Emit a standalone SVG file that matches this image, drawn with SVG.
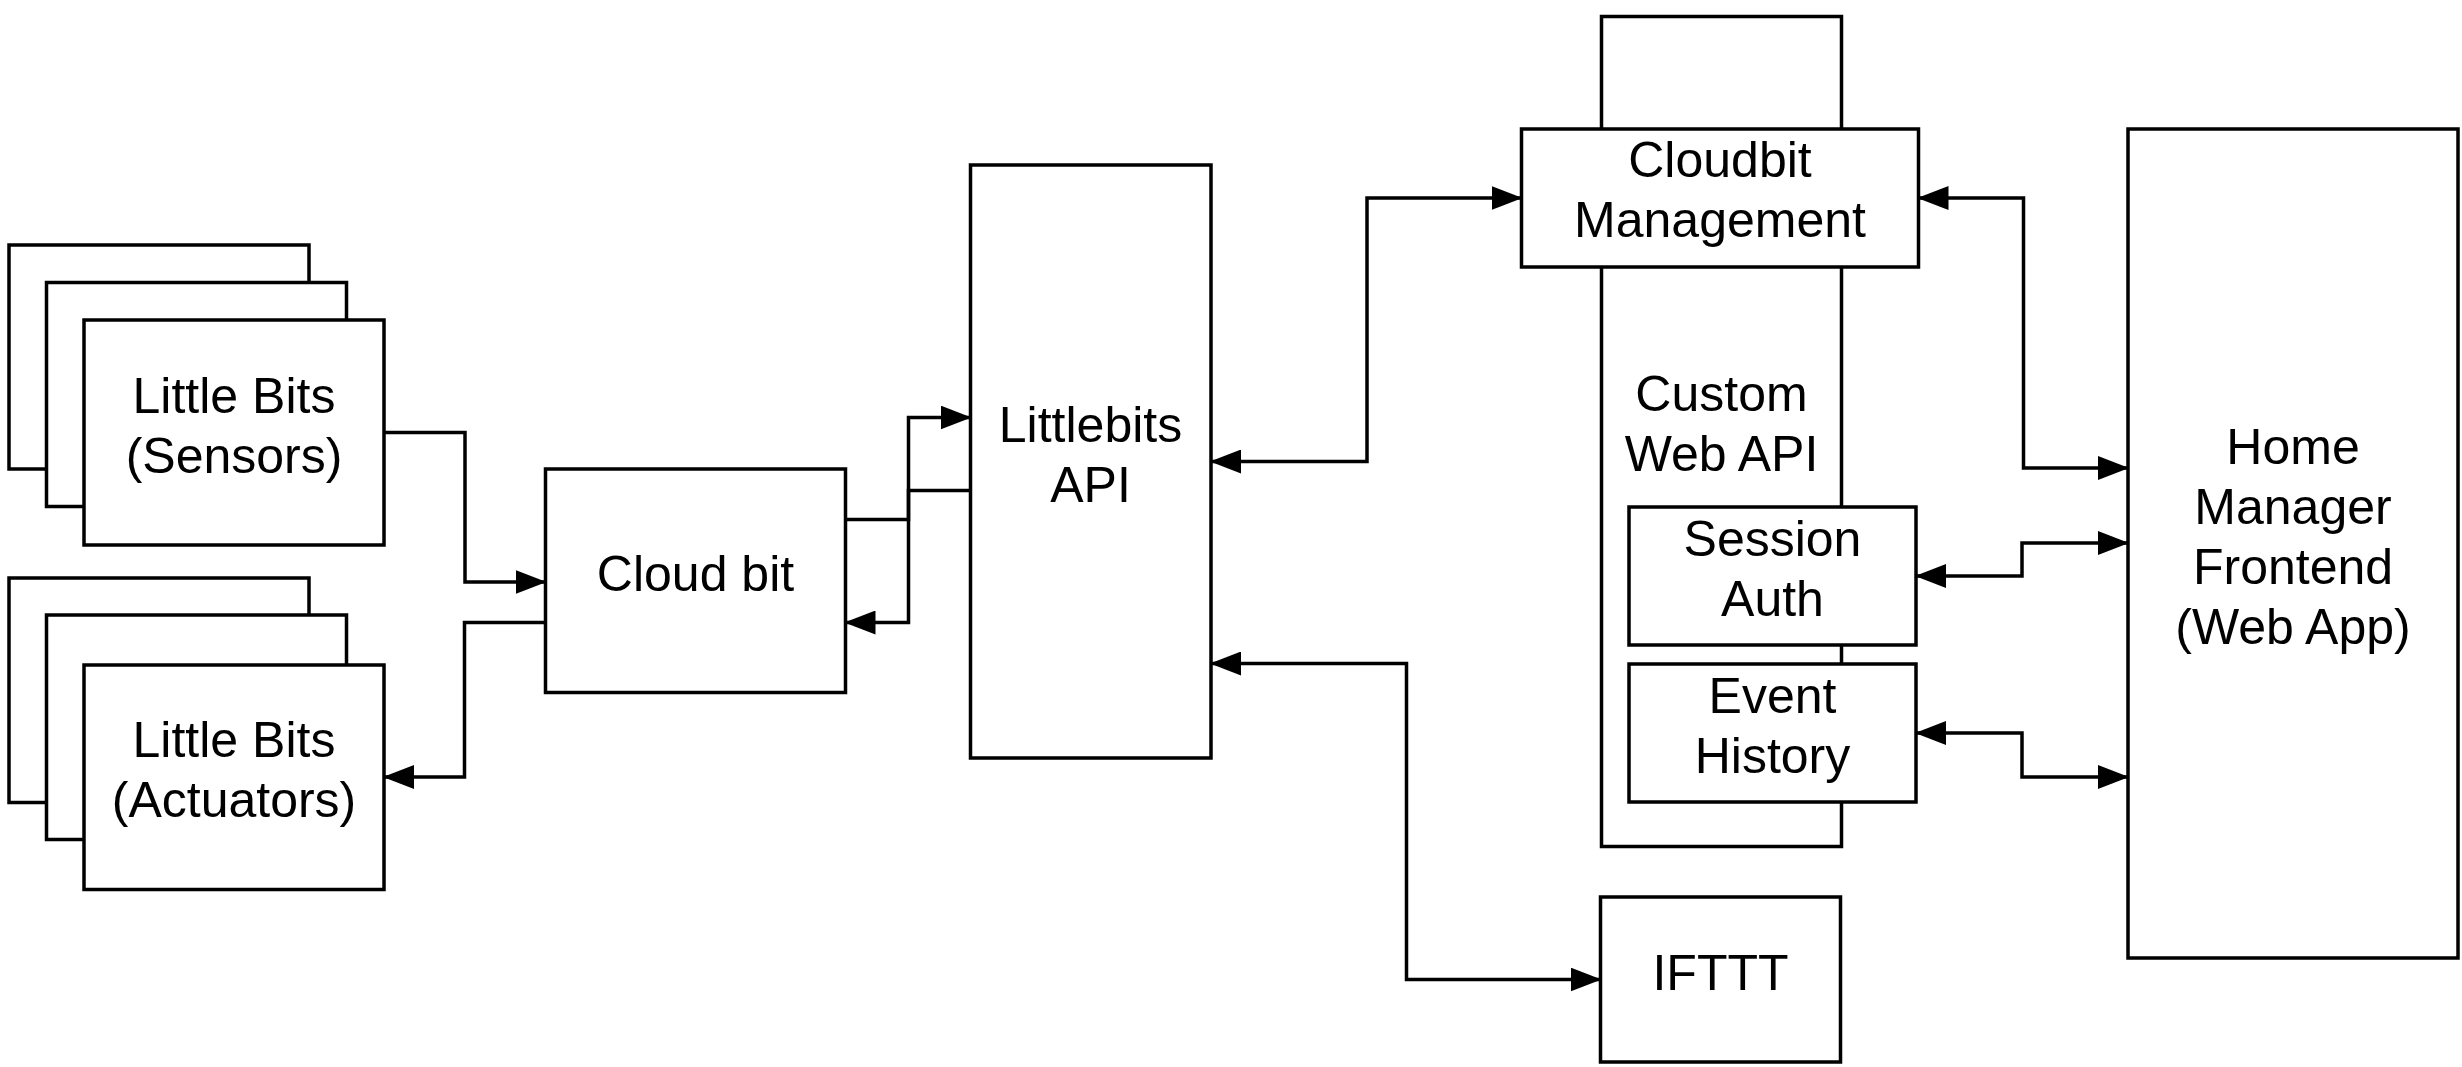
<svg xmlns="http://www.w3.org/2000/svg" width="2462" height="1067" viewBox="0 0 2462 1067">
<style>
.box{fill:#fff;stroke:#000;stroke-width:3.5}
.lbl{font-family:"Liberation Sans",Arial,sans-serif;font-size:50px;fill:#000;text-anchor:middle}
.edge{fill:none;stroke:#000;stroke-width:3.5}
</style>
<defs>
<marker id="arr" viewBox="0 0 31 24" refX="30" refY="12" markerWidth="31" markerHeight="24" markerUnits="userSpaceOnUse" orient="auto-start-reverse">
<path d="M0,0 L31,12 L0,24 Z" fill="#000"/>
</marker>
</defs>
<rect width="2462" height="1067" fill="#fff"/>
<g id="sensors">
<rect class="box" x="9" y="245" width="300" height="224"/>
<rect class="box" x="46.5" y="282.5" width="300" height="224"/>
<rect class="box" x="84" y="320" width="300" height="225"/>
<text class="lbl" x="234" y="413">Little Bits</text>
<text class="lbl" x="234" y="473">(Sensors)</text>
</g>
<g id="actuators">
<rect class="box" x="9" y="578" width="300" height="224.5"/>
<rect class="box" x="46.5" y="615" width="300" height="224.5"/>
<rect class="box" x="84" y="665" width="300" height="224.5"/>
<text class="lbl" x="234" y="757">Little Bits</text>
<text class="lbl" x="234" y="817">(Actuators)</text>
</g>
<g id="cloudbit">
<rect class="box" x="545.5" y="469" width="300" height="223.5"/>
<text class="lbl" x="695.5" y="591">Cloud bit</text>
</g>
<g id="littlebits-api">
<rect class="box" x="970.5" y="165" width="240.5" height="593"/>
<text class="lbl" x="1090.5" y="442">Littlebits</text>
<text class="lbl" x="1090.5" y="502">API</text>
</g>
<g id="custom-web-api">
<rect class="box" x="1601.5" y="16.5" width="240" height="830"/>
<text class="lbl" x="1721.5" y="411">Custom</text>
<text class="lbl" x="1721.5" y="471">Web API</text>
</g>
<g id="cloudbit-management">
<rect class="box" x="1521.5" y="129" width="397" height="138"/>
<text class="lbl" x="1720" y="177">Cloudbit</text>
<text class="lbl" x="1720" y="237">Management</text>
</g>
<g id="session-auth">
<rect class="box" x="1629" y="507" width="287" height="138"/>
<text class="lbl" x="1772.5" y="556">Session</text>
<text class="lbl" x="1772.5" y="616">Auth</text>
</g>
<g id="event-history">
<rect class="box" x="1629" y="664" width="287" height="138"/>
<text class="lbl" x="1772.5" y="713">Event</text>
<text class="lbl" x="1772.5" y="773">History</text>
</g>
<g id="ifttt">
<rect class="box" x="1600.5" y="897" width="240" height="165"/>
<text class="lbl" x="1720.5" y="990">IFTTT</text>
</g>
<g id="home-manager">
<rect class="box" x="2128" y="129" width="330" height="829"/>
<text class="lbl" x="2293" y="464">Home</text>
<text class="lbl" x="2293" y="524">Manager</text>
<text class="lbl" x="2293" y="584">Frontend</text>
<text class="lbl" x="2293" y="644">(Web App)</text>
</g>
<g id="connectors">
<path class="edge" d="M384,432.5 H465 V582 H545.5" marker-end="url(#arr)"/>
<path class="edge" d="M545.5,622.5 H464.5 V777 H384" marker-end="url(#arr)"/>
<path class="edge" d="M845.5,519.5 H908.5 V417.5 H970.5" marker-end="url(#arr)"/>
<path class="edge" d="M970.5,490.5 H908.5 V622.5 H845.5" marker-end="url(#arr)"/>
<path class="edge" d="M1211,461.5 H1367 V198 H1521.5" marker-start="url(#arr)" marker-end="url(#arr)"/>
<path class="edge" d="M1211,663.5 H1406.5 V979.5 H1600.5" marker-start="url(#arr)" marker-end="url(#arr)"/>
<path class="edge" d="M1918.5,198 H2023.5 V468 H2128" marker-start="url(#arr)" marker-end="url(#arr)"/>
<path class="edge" d="M1916,576 H2022 V543 H2128" marker-start="url(#arr)" marker-end="url(#arr)"/>
<path class="edge" d="M1916,733 H2022 V777 H2128" marker-start="url(#arr)" marker-end="url(#arr)"/>
</g>
</svg>
